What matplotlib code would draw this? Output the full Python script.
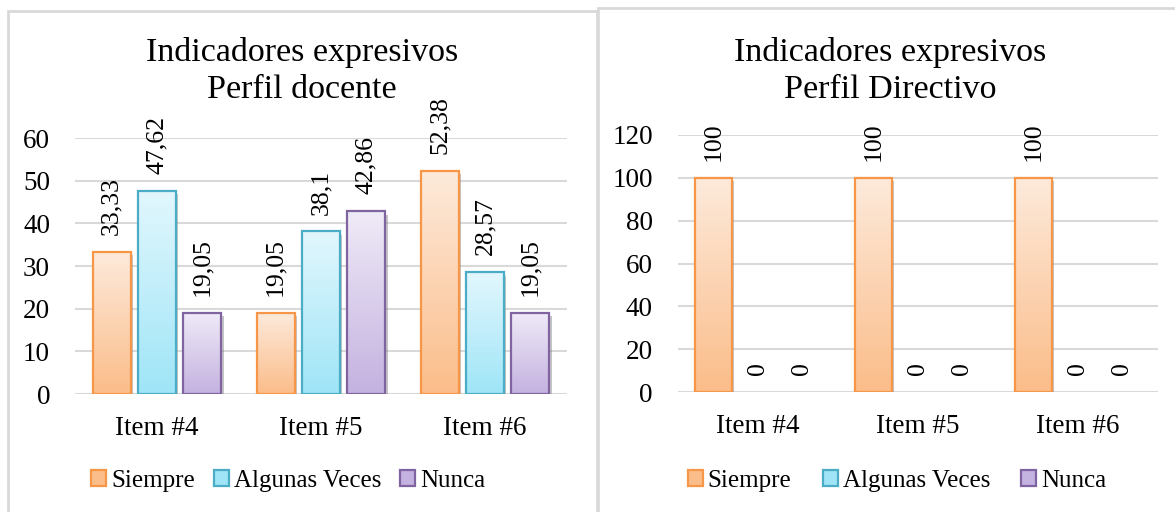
import numpy as np
import matplotlib.pyplot as plt
import matplotlib.patheffects as pe
from matplotlib.colors import LinearSegmentedColormap
from matplotlib.patches import Rectangle, Patch

plt.rcParams['font.family'] = ['Liberation Serif', 'DejaVu Serif']

items = ["Item #4", "Item #5", "Item #6"]
series = ["Siempre", "Algunas Veces", "Nunca"]

docente = {
    "Siempre": [33.33, 19.05, 52.38],
    "Algunas Veces": [47.62, 38.1, 28.57],
    "Nunca": [19.05, 42.86, 19.05],
}
directivo = {
    "Siempre": [100, 100, 100],
    "Algunas Veces": [0, 0, 0],
    "Nunca": [0, 0, 0],
}

# (top colour, bottom colour, edge colour) for each series
styles = {
    "Siempre": ("#fdeadb", "#fbbd8a", "#f79646"),
    "Algunas Veces": ("#e2f7fd", "#9fe5f7", "#4bacc6"),
    "Nunca": ("#efeaf7", "#c4b2e0", "#8064a2"),
}

grid_col = "#d9d9d9"


def fmt(v):
    return f"{v:g}".replace(".", ",")


def draw_panel(ax, data, ymax, ystep):
    x = np.arange(len(items))
    w = 0.232
    off = 0.277
    ax.set_xlim(-0.5, len(items) - 0.5)
    ax.set_ylim(0, ymax)
    for i, name in enumerate(series):
        top, bottom, edge = styles[name]
        vals = data[name]
        pos = x + (i - 1) * off
        # filled bar carrying the drop shadow
        base = ax.bar(pos, vals, w, color=bottom, edgecolor="none", zorder=2,
                      path_effects=[pe.SimplePatchShadow(offset=(1.5, -2.5), shadow_rgbFace="#808080", alpha=0.45),
                                    pe.Normal()])
        cmap = LinearSegmentedColormap.from_list(name, [bottom, top])
        grad = np.linspace(0, 1, 100).reshape(-1, 1)
        for p in base.patches:
            if p.get_height() <= 0:
                continue
            ax.imshow(grad, cmap=cmap, origin="lower", aspect="auto",
                      extent=[p.get_x(), p.get_x() + p.get_width(), 0, p.get_height()],
                      zorder=2.5, interpolation="bilinear")
        lws = [1.6 if v > 0 else 0 for v in vals]
        ax.bar(pos, vals, w, color="none", edgecolor=edge, linewidth=lws, zorder=3)
        for xp, v in zip(pos, vals):
            ax.annotate(fmt(v), (xp, v), xytext=(0, 12), textcoords="offset points",
                        rotation=90, ha="center", va="bottom", fontsize=18.5)
    ax.set_xlim(-0.5, len(items) - 0.5)
    ax.set_ylim(0, ymax)
    ax.set_yticks(np.arange(0, ymax + 1, ystep))
    ax.set_xticks(x)
    ax.set_xticklabels(items)
    ax.tick_params(length=0, labelsize=19.5)
    ax.tick_params(axis="x", pad=16)
    ax.tick_params(axis="y", pad=18)
    ax.yaxis.grid(True, color=grid_col, linewidth=1.5)
    ax.set_axisbelow(True)
    for s in ax.spines.values():
        s.set_visible(False)


fig = plt.figure(figsize=(11.75, 5.12), dpi=100)

# panel frames
fig.patches.append(Rectangle((8 / 1175, -0.05), 589 / 1175, 1.05 - 11 / 512,
                             transform=fig.transFigure, fill=False, edgecolor=grid_col, linewidth=2))
fig.patches.append(Rectangle((598 / 1175, -0.05), 0.6, 1.05 - 8 / 512,
                             transform=fig.transFigure, fill=False, edgecolor=grid_col, linewidth=2))

ax1 = fig.add_axes([75 / 1175, 1 - 394 / 512, 492 / 1175, 256 / 512])
ax2 = fig.add_axes([678 / 1175, 1 - 392 / 512, 480 / 1175, 257 / 512])

draw_panel(ax1, docente, 60, 10)
draw_panel(ax2, directivo, 120, 20)

# two-line titles, one text per line
for cx, sub in ((302 / 1175, "Perfil docente"), (890 / 1175, "Perfil Directivo")):
    fig.text(cx, 1 - 61 / 512, "Indicadores expresivos", ha="center", va="baseline", fontsize=24.5)
    fig.text(cx, 1 - 98 / 512, sub, ha="center", va="baseline", fontsize=24.5)

handles = [Patch(facecolor=styles[n][1], edgecolor=styles[n][2], linewidth=1.6) for n in series]
for cx, gap in ((288 / 1175, 0.75), (897 / 1175, 1.25)):
    fig.legend(handles, series, loc="center", bbox_to_anchor=(cx, 1 - 481 / 512), ncol=3,
               frameon=False, fontsize=18, handlelength=0.6, handleheight=0.6,
               handletextpad=0.2, columnspacing=gap)

fig.savefig("out.png", dpi=100)
